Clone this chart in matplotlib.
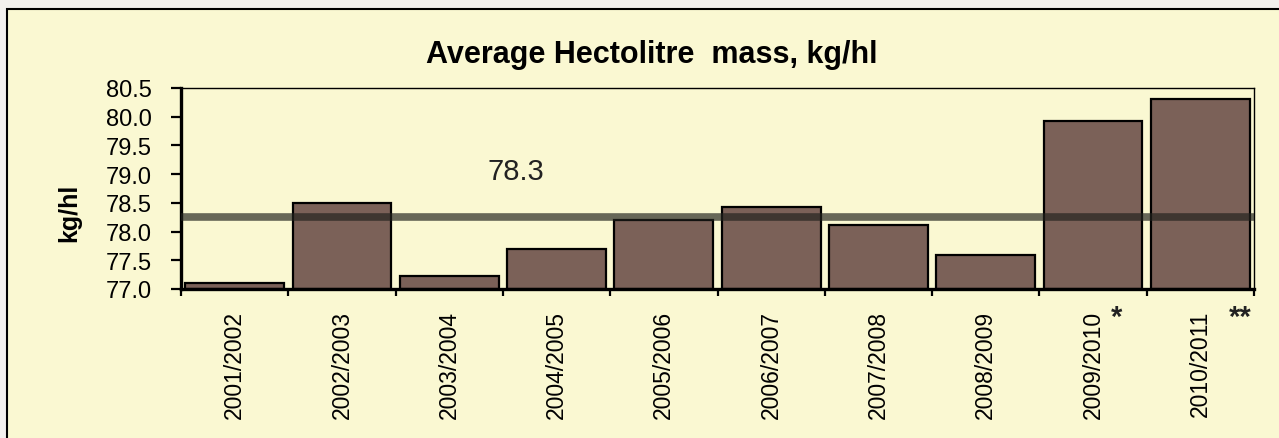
import numpy as np
import matplotlib
matplotlib.use('Agg')
import matplotlib.pyplot as plt
from matplotlib.patches import Rectangle
import matplotlib.transforms as mtransforms

seasons=['2001/2002','2002/2003','2003/2004','2004/2005','2005/2006',
         '2006/2007','2007/2008','2008/2009','2009/2010','2010/2011']
massValues=[77.1,78.5,77.22,77.7,78.2,78.42,78.12,77.6,79.92,80.3]
averageValue=78.25
averageLabel='78.3'
notes=['','','','','','','','','*','**']
yTicks=[77.0,77.5,78.0,78.5,79.0,79.5,80.0,80.5]

plt.rcParams['font.family']=['Liberation Sans','DejaVu Sans']

fig=plt.figure(figsize=(12.79,4.39),dpi=100)
fig.patch.set_facecolor('#F3F1EE')

# yellow panel behind the chart
panel=Rectangle((7/1279,-0.2),1.2,1-10/439+0.2,transform=fig.transFigure,
                facecolor='#FAF8D2',edgecolor='black',linewidth=1.5,zorder=-5)
fig.patches.append(panel)

ax=fig.add_axes([181/1279,1-290/439,1073/1279,201/439])
ax.set_zorder(2)
ax.set_facecolor('#FAF8D2')

x=np.arange(len(seasons))
ax.bar(x,np.array(massValues)-77.0,bottom=77.0,width=0.92,color='#7B6158',
       edgecolor='black',linewidth=1.6,zorder=2)
ax.axhline(averageValue,color='#22221E',alpha=0.68,linewidth=5.5,zorder=3)
ax.text(2.62,79.05,averageLabel,fontsize=21,color='#222222',ha='center',va='center')

ax.set_xlim(-0.5,len(seasons)-0.5)
ax.set_ylim(77.0,80.5)
ax.set_yticks(yTicks)
ax.set_yticklabels(['%.1f'%v for v in yTicks],fontsize=17)
ax.set_xticks(x)
ax.set_xticklabels(seasons,rotation=90,fontsize=16.5,va='top')
ax.set_xticks(np.arange(-0.5,len(seasons)),minor=True)
ax.tick_params(axis='x',which='major',length=0,pad=15)
ax.tick_params(axis='x',which='minor',length=5,width=1.6,direction='out')
ax.tick_params(axis='y',length=7,width=1.6,direction='out',pad=14)

for s in ['left','bottom']:
    ax.spines[s].set_linewidth(2.4)
for s in ['top','right']:
    ax.spines[s].set_linewidth(1.0)

# asterisks beside the last two season labels
trans=mtransforms.blended_transform_factory(ax.transData,ax.transAxes)
for i,n in enumerate(notes):
    if n:
        off=0.22 if len(n)==1 else 0.37
        ax.text(i+off,-0.14,n,transform=trans,fontsize=21,fontweight='bold',
                ha='center',va='center',color='#222222')

fig.text(652/1279,1-55/439,'Average Hectolitre  mass, kg/hl',fontsize=22,
         fontweight='bold',ha='center',va='center')
fig.text(69/1279,1-213/439,'kg/hl',fontsize=18,fontweight='bold',rotation=90,
         ha='center',va='center')

plt.savefig('out.png',dpi=100,facecolor=fig.get_facecolor())
